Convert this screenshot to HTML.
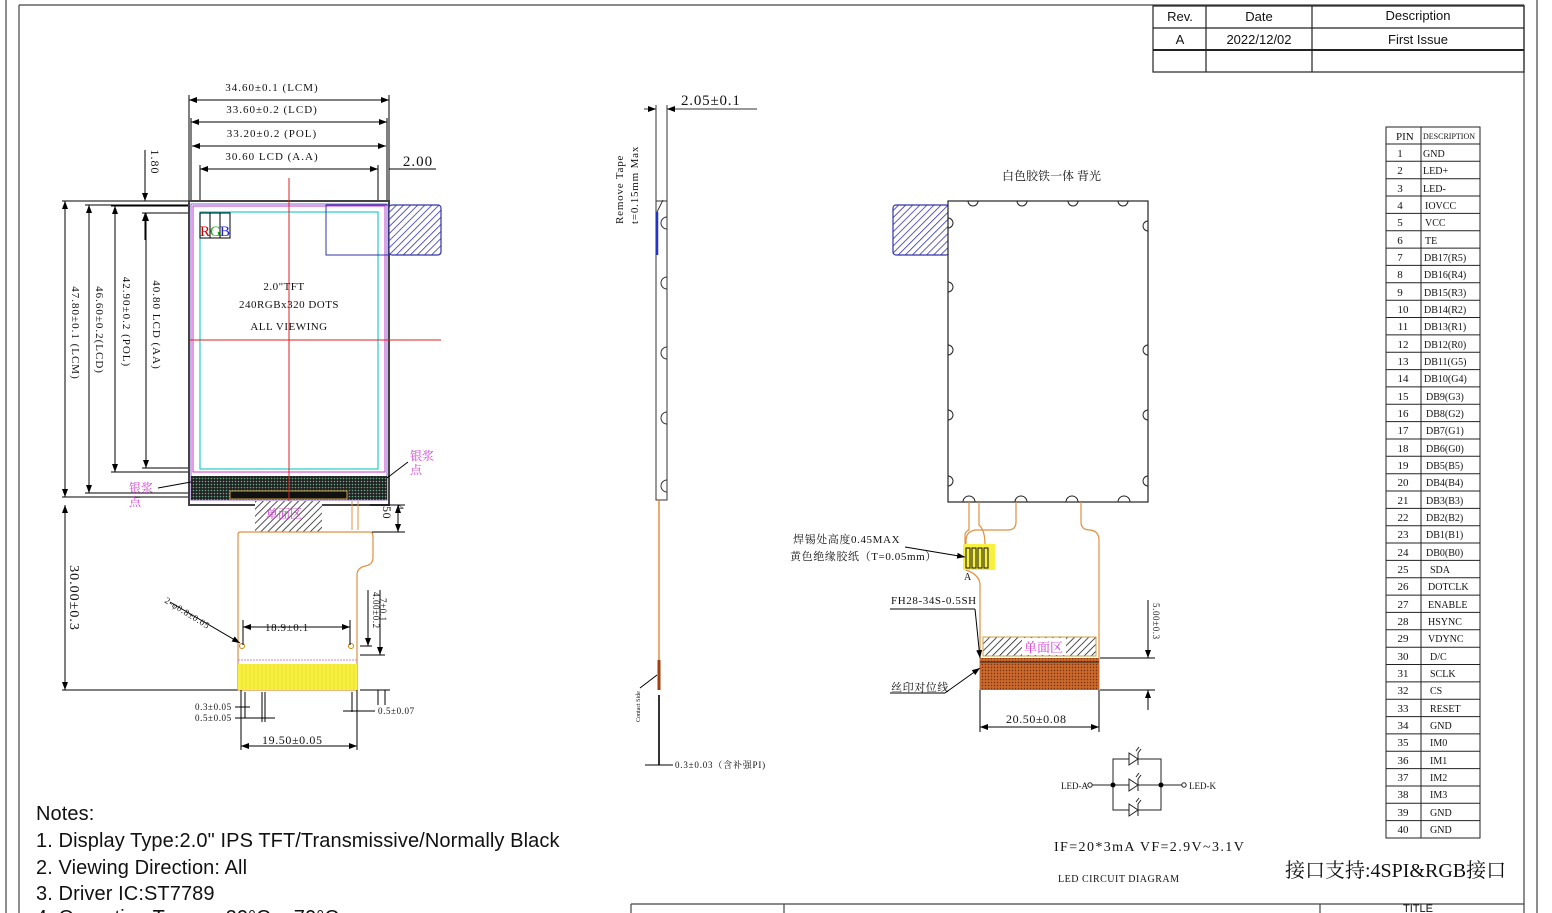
<!DOCTYPE html>
<html><head><meta charset="utf-8"><style>
html,body{margin:0;padding:0;background:#fff;}
svg{display:block;}
.s{font-family:"Liberation Serif","Noto Serif CJK SC",serif;}
.a{font-family:"Liberation Sans","Noto Sans CJK SC",sans-serif;}
</style></head><body>
<svg width="1552" height="913" viewBox="0 0 1552 913" xmlns="http://www.w3.org/2000/svg">
<defs>
<pattern id="hb" width="5" height="5" patternUnits="userSpaceOnUse" patternTransform="rotate(45)"><rect width="5" height="5" fill="#fff"/><line x1="0" y1="0" x2="0" y2="5" stroke="#3333aa" stroke-width="1.6"/></pattern>
<pattern id="hk" width="5" height="5" patternUnits="userSpaceOnUse" patternTransform="rotate(45)"><rect width="5" height="5" fill="#fff"/><line x1="0" y1="0" x2="0" y2="5" stroke="#222" stroke-width="1.6"/></pattern>
<pattern id="dots" width="3" height="3" patternUnits="userSpaceOnUse"><rect width="3" height="3" fill="#222"/><circle cx="1.5" cy="1.5" r="0.8" fill="#6a8"/></pattern>
<pattern id="cu" width="3" height="3" patternUnits="userSpaceOnUse"><rect width="3" height="3" fill="#c8682a"/><circle cx="1.5" cy="1.5" r="0.7" fill="#7a3010"/></pattern>
<marker id="ar" markerWidth="8" markerHeight="6" refX="8" refY="3" orient="auto-start-reverse"><path d="M0,0 L8,3 L0,6 z" fill="#000"/></marker>
</defs>

<g fill="none" stroke="#444" stroke-width="1.2">
<line x1="6" y1="0" x2="6" y2="913"/><line x1="19" y1="5" x2="19" y2="913"/>
<line x1="19" y1="5" x2="1524" y2="5"/>
<line x1="1524" y1="5" x2="1524" y2="913"/><line x1="1537" y1="0" x2="1537" y2="913"/>
<line x1="631" y1="904" x2="1524" y2="904"/><line x1="631" y1="904" x2="631" y2="913"/>
<line x1="784" y1="904" x2="784" y2="913"/><line x1="1320" y1="904" x2="1320" y2="913"/>
</g>

<g stroke="#222" stroke-width="1.2" fill="none">
<rect x="1153" y="6" width="371" height="66"/>
<line x1="1153" y1="28" x2="1524" y2="28"/>
<line x1="1153" y1="50" x2="1524" y2="50" stroke-width="2"/>
<line x1="1206" y1="6" x2="1206" y2="72"/><line x1="1312" y1="6" x2="1312" y2="72"/>
</g>
<g class="a" font-size="13" text-anchor="middle" fill="#111">
<text x="1180" y="21">Rev.</text><text x="1259" y="21">Date</text><text x="1418" y="20">Description</text>
<text x="1180" y="44">A</text><text x="1259" y="44">2022/12/02</text><text x="1418" y="44">First Issue</text>
</g>

<g fill="none" stroke="#000" stroke-width="1">
<line x1="189" y1="100" x2="389" y2="100" marker-start="url(#ar)" marker-end="url(#ar)"/>
<line x1="191" y1="122" x2="387" y2="122" marker-start="url(#ar)" marker-end="url(#ar)"/>
<line x1="192" y1="146" x2="386" y2="146" marker-start="url(#ar)" marker-end="url(#ar)"/>
<line x1="200" y1="169" x2="378" y2="169" marker-start="url(#ar)" marker-end="url(#ar)"/>
<line x1="189" y1="95" x2="189" y2="201"/><line x1="389" y1="95" x2="389" y2="201"/>
<line x1="191" y1="118" x2="191" y2="201"/><line x1="387" y1="118" x2="387" y2="201"/>
<line x1="200" y1="165" x2="200" y2="212"/><line x1="378" y1="165" x2="378" y2="212"/>
<line x1="389" y1="169" x2="436" y2="169"/>
<line x1="62" y1="201" x2="189" y2="201"/><line x1="85" y1="205" x2="189" y2="205"/>
<line x1="111" y1="206" x2="189" y2="206"/><line x1="142" y1="213" x2="200" y2="213"/>
<line x1="62" y1="497" x2="189" y2="497"/><line x1="85" y1="493" x2="189" y2="493"/>
<line x1="111" y1="472" x2="189" y2="472"/><line x1="142" y1="468" x2="200" y2="468"/>
<line x1="65" y1="201" x2="65" y2="497" marker-start="url(#ar)" marker-end="url(#ar)"/>
<line x1="89" y1="205" x2="89" y2="493" marker-start="url(#ar)" marker-end="url(#ar)"/>
<line x1="115" y1="206" x2="115" y2="472" marker-start="url(#ar)" marker-end="url(#ar)"/>
<line x1="146" y1="213" x2="146" y2="468" marker-start="url(#ar)" marker-end="url(#ar)"/>
<line x1="145" y1="150" x2="145" y2="201" marker-end="url(#ar)"/>
<line x1="145" y1="240" x2="145" y2="213" marker-end="url(#ar)"/>
<line x1="62" y1="690" x2="240" y2="690"/>
<line x1="65" y1="505" x2="65" y2="690" marker-start="url(#ar)" marker-end="url(#ar)"/>
</g>
<g class="s" font-size="11" fill="#111" text-anchor="middle" style="letter-spacing:1px">
<text x="272" y="91">34.60±0.1 (LCM)</text>
<text x="272" y="113">33.60±0.2 (LCD)</text>
<text x="272" y="137">33.20±0.2 (POL)</text>
<text x="272" y="160">30.60 LCD (A.A)</text>
<text x="418" y="166" font-size="15">2.00</text>
<text transform="translate(151,162) rotate(90)" font-size="12">1.80</text>
<text transform="translate(72,333) rotate(90)">47.80±0.1 (LCM)</text>
<text transform="translate(96,330) rotate(90)">46.60±0.2(LCD)</text>
<text transform="translate(123,322) rotate(90)">42.90±0.2 (POL)</text>
<text transform="translate(153,325) rotate(90)">40.80 LCD (AA)</text>
<text transform="translate(70,598) rotate(90)" font-size="14">30.00±0.3</text>
</g>

<rect x="189" y="201" width="200" height="304" fill="#fff" stroke="#444" stroke-width="2"/>
<rect x="191" y="204" width="196" height="296" fill="none" stroke="#8866cc" stroke-width="1"/>
<rect x="193" y="206" width="192" height="266" fill="none" stroke="#cc33cc" stroke-width="1"/>
<rect x="200" y="212" width="178" height="257" fill="none" stroke="#22cccc" stroke-width="1.2"/>
<rect x="191" y="476" width="196" height="24" fill="url(#dots)"/>
<rect x="230" y="491" width="117" height="8" fill="#111" stroke="#c8a040"/>
<rect x="326" y="205" width="63" height="50" fill="none" stroke="#3333aa"/>
<rect x="389" y="205" width="52" height="50" rx="3" fill="url(#hb)" stroke="#3333aa" stroke-width="1.2"/>
<rect x="200" y="213" width="10" height="25" fill="none" stroke="#000"/><rect x="210" y="213" width="10" height="25" fill="none" stroke="#000"/><rect x="220" y="213" width="10" height="25" fill="none" stroke="#000"/>
<g class="s" font-size="15"><text x="200" y="236" fill="#c00">R</text><text x="210" y="236" fill="#2a2">G</text><text x="220" y="236" fill="#22c">B</text></g>
<line x1="289" y1="178" x2="289" y2="640" stroke="#d22" stroke-width="1"/>
<line x1="190" y1="340" x2="441" y2="340" stroke="#d22" stroke-width="1"/>
<g class="s" font-size="11" fill="#111" text-anchor="middle" style="letter-spacing:0.5px">
<text x="284" y="290">2.0"TFT</text><text x="289" y="308">240RGBx320 DOTS</text><text x="289" y="330">ALL VIEWING</text>
</g>
<g class="s" font-size="12" fill="#d33fd3"><text x="410" y="460">银浆</text><text x="410" y="474">点</text><text x="129" y="492">银浆</text><text x="129" y="506">点</text></g>
<line x1="408" y1="462" x2="387" y2="478" stroke="#000"/><line x1="158" y1="488" x2="191" y2="482" stroke="#000"/>

<rect x="255" y="501" width="67" height="31" fill="url(#hk)"/>
<text x="266" y="518" class="s" font-size="12" fill="#d33fd3">单面区</text>
<path d="M352,501 V530 M358,501 V530" stroke="#e09040" fill="none"/>
<path d="M240,532 H370 Q373,532 373,537 V557 Q373,565 365,566 Q357,568 357,575 V690 H238 V535 Q238,532 240,532 Z" fill="#fff" stroke="#e09040" stroke-width="1.2"/>
<line x1="238" y1="660" x2="357" y2="660" stroke="#d080d0" stroke-dasharray="2,1"/>
<rect x="238" y="664" width="119" height="26" fill="#f8f040"/>
<g stroke="#e0d020" stroke-width="0.5"><path d="M242,664V690M246,664V690M250,664V690M254,664V690M258,664V690M262,664V690M266,664V690M270,664V690M274,664V690M278,664V690M282,664V690M286,664V690M290,664V690M294,664V690M298,664V690M302,664V690M306,664V690M310,664V690M314,664V690M318,664V690M322,664V690M326,664V690M330,664V690M334,664V690M338,664V690M342,664V690M346,664V690M350,664V690M354,664V690"/></g>
<circle cx="242" cy="646" r="2.5" fill="#fff" stroke="#c80"/><circle cx="351" cy="646" r="2.5" fill="#fff" stroke="#c80"/>
<g fill="none" stroke="#000" stroke-width="1">
<line x1="243" y1="627" x2="350" y2="627" marker-start="url(#ar)" marker-end="url(#ar)"/>
<line x1="243" y1="620" x2="243" y2="645"/><line x1="350" y1="620" x2="350" y2="645"/>
<line x1="170" y1="602" x2="240" y2="643" marker-end="url(#ar)"/>
<line x1="241" y1="746" x2="357" y2="746" marker-start="url(#ar)" marker-end="url(#ar)"/>
<line x1="241" y1="690" x2="241" y2="750"/><line x1="357" y1="690" x2="357" y2="750"/>
<line x1="245" y1="692" x2="245" y2="718"/><line x1="262" y1="692" x2="262" y2="722"/><line x1="265" y1="692" x2="265" y2="722"/>
<line x1="235" y1="707" x2="250" y2="707"/><line x1="235" y1="718" x2="275" y2="718"/>
<line x1="352" y1="692" x2="352" y2="712"/><line x1="343" y1="711" x2="375" y2="711"/>
<line x1="360" y1="690" x2="390" y2="690"/><line x1="360" y1="655" x2="385" y2="655"/>
<line x1="360" y1="646" x2="372" y2="646"/>
<line x1="380" y1="590" x2="380" y2="655" marker-end="url(#ar)"/>
<line x1="368" y1="590" x2="368" y2="646" marker-end="url(#ar)"/>
<line x1="378" y1="690" x2="378" y2="705"/><line x1="385" y1="690" x2="385" y2="705"/>
<line x1="370" y1="505" x2="405" y2="505"/><line x1="372" y1="532" x2="405" y2="532"/>
<line x1="398" y1="505" x2="398" y2="532" marker-start="url(#ar)" marker-end="url(#ar)"/>
</g>
<g class="s" font-size="9" fill="#111" style="letter-spacing:0.6px">
<text x="265" y="631" font-size="11">18.9±0.1</text>
<text transform="translate(164,602) rotate(32)">2-φ0.8±0.05</text>
<text transform="translate(373,592) rotate(90)">4.00±0.2</text>
<text transform="translate(380,598) rotate(90)">7±0.1</text>
<text x="195" y="710">0.3±0.05</text><text x="195" y="721">0.5±0.05</text>
<text x="378" y="714">0.5±0.07</text>
<text x="262" y="744" font-size="12">19.50±0.05</text>
<text transform="translate(383,506) rotate(90)" font-size="12">50</text>
<text transform="translate(397,505) rotate(90)">4</text>
</g>

<g class="a" font-size="20" fill="#111" style="letter-spacing:0.1px">
<text x="36" y="820">Notes:</text>
<text x="36" y="847">1. Display Type:2.0" IPS TFT/Transmissive/Normally Black</text>
<text x="36" y="874">2. Viewing Direction: All</text>
<text x="36" y="900">3. Driver IC:ST7789</text>
<text x="36" y="924">4. Operating Temp.: -20°C ~ 70°C</text>
</g>

<g fill="none" stroke="#333" stroke-width="1">
<line x1="656" y1="105" x2="656" y2="500"/><line x1="667" y1="105" x2="667" y2="500"/>
<line x1="656" y1="500" x2="667" y2="500"/>
<line x1="644" y1="109" x2="656" y2="109" marker-end="url(#ar)"/>
<line x1="690" y1="109" x2="667" y2="109" marker-end="url(#ar)"/>
<line x1="690" y1="109" x2="757" y2="109"/>
<rect x="656" y="201" width="11" height="299"/>
<path d="M667,217 a4,4 0 0 0 0,12 M667,277 a4,4 0 0 0 0,12 M667,347 a4,4 0 0 0 0,12 M667,412 a4,4 0 0 0 0,12 M667,480 a4,4 0 0 0 0,12"/>
<line x1="657" y1="212" x2="663" y2="200"/>
</g>
<line x1="657" y1="212" x2="657" y2="255" stroke="#2233cc" stroke-width="2.5"/>
<line x1="659" y1="500" x2="659" y2="660" stroke="#e09040" stroke-width="1.5"/>
<line x1="659" y1="660" x2="659" y2="690" stroke="#a04010" stroke-width="3"/>
<line x1="659" y1="695" x2="659" y2="765" stroke="#333" stroke-width="2"/>
<line x1="645" y1="765" x2="673" y2="765" stroke="#000"/>
<line x1="640" y1="688" x2="657" y2="675" stroke="#000"/>
<g class="s" fill="#111" style="letter-spacing:0.8px">
<text x="681" y="105" font-size="15">2.05±0.1</text>
<text transform="translate(623,224) rotate(-90)" font-size="11">Remove Tape</text>
<text transform="translate(638,224) rotate(-90)" font-size="11">t=0.15mm Max</text>
<text transform="translate(640,722) rotate(-90)" font-size="6" style="letter-spacing:0">Contact Side</text>
<text x="675" y="768" font-size="9">0.3±0.03（含补强PI)</text>
</g>

<text x="1002" y="180" class="s" font-size="12" fill="#111">白色胶铁一体 背光</text>
<rect x="893" y="205" width="56" height="50" rx="3" fill="url(#hb)" stroke="#3333aa" stroke-width="1.2"/>
<rect x="948" y="201" width="200" height="301" fill="#fff" stroke="#222" stroke-width="1.2"/>
<g fill="none" stroke="#222" stroke-width="1">
<path d="M968,201 a5,5 0 0 0 10,0 M1017,201 a5,5 0 0 0 10,0 M1068,201 a5,5 0 0 0 10,0 M1118,201 a5,5 0 0 0 10,0"/>
<path d="M963,502 a6,6 0 0 1 12,0 M1015,502 a6,6 0 0 1 12,0 M1066,502 a6,6 0 0 1 12,0 M1118,502 a6,6 0 0 1 12,0"/>
<path d="M948,218 a4,4 0 0 1 0,10 M948,282 a4,4 0 0 1 0,10 M948,345 a4,4 0 0 1 0,10 M948,410 a4,4 0 0 1 0,10 M948,476 a4,4 0 0 1 0,10"/>
<path d="M1148,221 a4,4 0 0 0 0,10 M1148,345 a4,4 0 0 0 0,10 M1148,410 a4,4 0 0 0 0,10 M1148,476 a4,4 0 0 0 0,10"/>
</g>
<g fill="none" stroke="#e09040" stroke-width="1.2">
<path d="M969,502 V530 Q967,530 965,534 V560"/>
<path d="M979,502 V525 Q985,530 985,545"/>
<path d="M1016,502 V522 Q1016,530 1008,530 H975 Q966,532 966,540"/>
<path d="M1081,502 V522 Q1081,530 1090,530 Q1099,531 1099,540 V690"/>
<path d="M966,540 V570 Q980,575 980,585 V690"/>
</g>
<rect x="963" y="544" width="32" height="26" fill="#f8f040"/>
<g stroke="#111" fill="none" stroke-width="1"><rect x="966" y="548" width="4" height="20"/><rect x="972" y="548" width="4" height="20"/><rect x="978" y="548" width="4" height="20"/><rect x="984" y="548" width="4" height="20"/></g>
<rect x="983" y="637" width="113" height="19" fill="url(#hk)" stroke="#c8a040"/>
<rect x="1022" y="638" width="44" height="17" fill="#fff"/>
<text x="1024" y="652" class="s" font-size="13" fill="#d33fd3">单面区</text>
<rect x="980" y="658" width="119" height="32" fill="url(#cu)"/>
<line x1="980" y1="662" x2="1099" y2="662" stroke="#222"/>
<g fill="none" stroke="#000" stroke-width="1">
<line x1="905" y1="547" x2="965" y2="557" marker-end="url(#ar)"/>
<line x1="890" y1="609" x2="975" y2="609"/><line x1="975" y1="609" x2="980" y2="658" marker-end="url(#ar)"/>
<line x1="890" y1="693" x2="945" y2="693"/><line x1="945" y1="693" x2="980" y2="668" marker-end="url(#ar)"/>
<line x1="980" y1="727" x2="1099" y2="727" marker-start="url(#ar)" marker-end="url(#ar)"/>
<line x1="980" y1="690" x2="980" y2="732"/><line x1="1099" y1="690" x2="1099" y2="732"/>
<line x1="1100" y1="658" x2="1155" y2="658"/><line x1="1100" y1="690" x2="1155" y2="690"/>
<line x1="1148" y1="600" x2="1148" y2="658" marker-end="url(#ar)"/>
<line x1="1148" y1="710" x2="1148" y2="690" marker-end="url(#ar)"/>
</g>
<g class="s" fill="#111" font-size="11" style="letter-spacing:0.6px">
<text x="793" y="543">焊锡处高度0.45MAX</text>
<text x="790" y="560">黄色绝缘胶纸（T=0.05mm）</text>
<text x="964" y="580" font-size="10">A</text>
<text x="891" y="604">FH28-34S-0.5SH</text>
<text x="891" y="691">丝印对位线</text>
<text x="1006" y="723" font-size="12">20.50±0.08</text>
<text transform="translate(1153,603) rotate(90)" font-size="9">5.00±0.3</text>
</g>

<g fill="none" stroke="#222" stroke-width="1">
<line x1="1092" y1="785" x2="1113" y2="785"/><line x1="1161" y1="785" x2="1182" y2="785"/>
<rect x="1113" y="759" width="48" height="51"/>
<line x1="1113" y1="785" x2="1161" y2="785"/>
<circle cx="1090" cy="785" r="2.2" fill="#fff"/><circle cx="1184" cy="785" r="2.2" fill="#fff"/>
</g>
<circle cx="1113" cy="785" r="2.5" fill="#000"/><circle cx="1161" cy="785" r="2.5" fill="#000"/>
<g fill="#fff" stroke="#222" stroke-width="1">
<path d="M1129,753 L1138,759 L1129,765 Z M1138,753 V765"/>
<path d="M1129,779 L1138,785 L1129,791 Z M1138,779 V791"/>
<path d="M1129,804 L1138,810 L1129,816 Z M1138,804 V816"/>
<path d="M1136,751 l3,-4 M1138,753 l3,-4 M1136,777 l3,-4 M1138,779 l3,-4 M1136,802 l3,-4 M1138,804 l3,-4"/>
</g>
<g class="s" fill="#111">
<text x="1061" y="789" font-size="9">LED-A</text><text x="1189" y="789" font-size="9">LED-K</text>
<text x="1054" y="851" font-size="14" style="letter-spacing:1.4px">IF=20*3mA  VF=2.9V~3.1V</text>
<text x="1058" y="882" font-size="10" style="letter-spacing:0.5px">LED CIRCUIT DIAGRAM</text>
<text x="1285" y="877" font-size="20">接口支持:4SPI&amp;RGB接口</text>
</g>

<g stroke="#222" stroke-width="1" fill="none">
<rect x="1386" y="127" width="94" height="711"/>
<line x1="1421" y1="127" x2="1421" y2="838"/>
<path d="M1386,144.0H1480M1386,161.3H1480M1386,178.7H1480M1386,196.0H1480M1386,213.4H1480M1386,230.8H1480M1386,248.1H1480M1386,265.4H1480M1386,282.8H1480M1386,300.2H1480M1386,317.5H1480M1386,334.9H1480M1386,352.2H1480M1386,369.6H1480M1386,386.9H1480M1386,404.2H1480M1386,421.6H1480M1386,439.0H1480M1386,456.3H1480M1386,473.7H1480M1386,491.0H1480M1386,508.4H1480M1386,525.7H1480M1386,543.0H1480M1386,560.4H1480M1386,577.8H1480M1386,595.1H1480M1386,612.4H1480M1386,629.8H1480M1386,647.2H1480M1386,664.5H1480M1386,681.9H1480M1386,699.2H1480M1386,716.6H1480M1386,733.9H1480M1386,751.2H1480M1386,768.6H1480M1386,786.0H1480M1386,803.3H1480M1386,820.6H1480"/>
</g>
<g class="s" font-size="11" fill="#111">
<text x="1396" y="140">PIN</text><text x="1423" y="139" font-size="8">DESCRIPTION</text>
<g text-anchor="middle">
<text x="1400" y="157">1</text><text x="1400" y="174">2</text><text x="1400" y="192">3</text><text x="1400" y="209">4</text><text x="1400" y="226">5</text><text x="1400" y="244">6</text><text x="1400" y="261">7</text><text x="1400" y="278">8</text><text x="1400" y="296">9</text><text x="1403" y="313">10</text><text x="1403" y="330">11</text><text x="1403" y="348">12</text><text x="1403" y="365">13</text><text x="1403" y="382">14</text><text x="1403" y="400">15</text><text x="1403" y="417">16</text><text x="1403" y="434">17</text><text x="1403" y="452">18</text><text x="1403" y="469">19</text><text x="1403" y="486">20</text><text x="1403" y="504">21</text><text x="1403" y="521">22</text><text x="1403" y="538">23</text><text x="1403" y="556">24</text><text x="1403" y="573">25</text><text x="1403" y="590">26</text><text x="1403" y="608">27</text><text x="1403" y="625">28</text><text x="1403" y="642">29</text><text x="1403" y="660">30</text><text x="1403" y="677">31</text><text x="1403" y="694">32</text><text x="1403" y="712">33</text><text x="1403" y="729">34</text><text x="1403" y="746">35</text><text x="1403" y="764">36</text><text x="1403" y="781">37</text><text x="1403" y="798">38</text><text x="1403" y="816">39</text><text x="1403" y="833">40</text>
</g>
<g font-size="10">
<text x="1423" y="157">GND</text><text x="1423" y="174">LED+</text><text x="1423" y="192">LED-</text><text x="1425" y="209">IOVCC</text><text x="1425" y="226">VCC</text><text x="1425" y="244">TE</text><text x="1424" y="261">DB17(R5)</text><text x="1424" y="278">DB16(R4)</text><text x="1424" y="296">DB15(R3)</text><text x="1424" y="313">DB14(R2)</text><text x="1424" y="330">DB13(R1)</text><text x="1424" y="348">DB12(R0)</text><text x="1424" y="365">DB11(G5)</text><text x="1424" y="382">DB10(G4)</text><text x="1426" y="400">DB9(G3)</text><text x="1426" y="417">DB8(G2)</text><text x="1426" y="434">DB7(G1)</text><text x="1426" y="452">DB6(G0)</text><text x="1426" y="469">DB5(B5)</text><text x="1426" y="486">DB4(B4)</text><text x="1426" y="504">DB3(B3)</text><text x="1426" y="521">DB2(B2)</text><text x="1426" y="538">DB1(B1)</text><text x="1426" y="556">DB0(B0)</text><text x="1430" y="573">SDA</text><text x="1428" y="590">DOTCLK</text><text x="1428" y="608">ENABLE</text><text x="1428" y="625">HSYNC</text><text x="1428" y="642">VDYNC</text><text x="1430" y="660">D/C</text><text x="1430" y="677">SCLK</text><text x="1430" y="694">CS</text><text x="1430" y="712">RESET</text><text x="1430" y="729">GND</text><text x="1430" y="746">IM0</text><text x="1430" y="764">IM1</text><text x="1430" y="781">IM2</text><text x="1430" y="798">IM3</text><text x="1430" y="816">GND</text><text x="1430" y="833">GND</text>
</g>
</g>
<text x="1403" y="912" class="a" font-size="11" fill="#111">TITLE</text>
</svg>
</body></html>
